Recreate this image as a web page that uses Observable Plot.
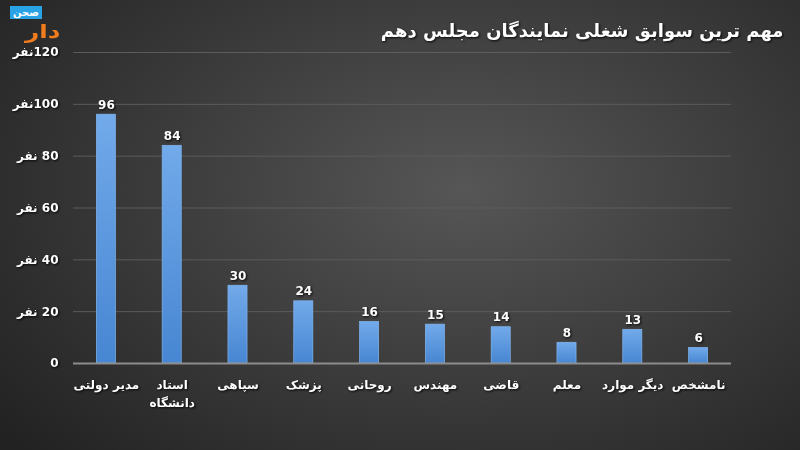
<!DOCTYPE html>
<html>
<head>
<meta charset="utf-8">
<script src="https://cdn.jsdelivr.net/npm/d3@7"></script>
<script src="https://cdn.jsdelivr.net/npm/@observablehq/plot@0.6"></script>
<style>
  html, body { margin: 0; padding: 0; }
  body {
    width: 800px; height: 450px; overflow: hidden; position: relative;
    background: radial-gradient(ellipse 75% 85% at 58% 42%, #565656 0%, #3c3c3c 50%, #222222 100%);
    font-family: "DejaVu Sans", sans-serif;
  }
  #logo { position: absolute; left: 9px; top: 5px; width: 60px; height: 40px; }
  #logo .blue { position: absolute; left: 1px; top: 1px; background: #29a3e6; color: #fff; font-size: 10px; font-weight: bold; line-height: 13px; padding: 0 3px; }
  #logo .orange { position: absolute; left: 16px; top: 15px; color: #f07c1e; font-size: 19px; line-height: 22px; font-weight: bold; transform: scaleX(1.3); transform-origin: left top; }
  svg text { filter: drop-shadow(1px 1px 1px rgba(0,0,0,0.85)); }
</style>
</head>
<body>
<div id="logo"><span class="orange">دار</span><span class="blue">صحن</span></div>
<div id="chart"></div>
<script>
const categories = ["مدیر دولتی", "استاد\nدانشگاه", "سپاهی", "پزشک", "روحانی", "مهندس", "قاضی", "معلم", "دیگر موارد", "نامشخص"];
const values = [96, 84, 30, 24, 16, 15, 14, 8, 13, 6];
const yTicks = [0, 20, 40, 60, 80, 100, 120];
const yTickLabels = ["0", "نفر\u200E 20", "نفر\u200E 40", "نفر\u200E 60", "نفر\u200E 80", "نفر\u200E100", "نفر\u200E120"];
const title = "مهم ترین سوابق شغلی نمایندگان مجلس دهم";

const data = categories.map((c, i) => ({category: c, value: values[i]}));

const defs = () => {
  const g = d3.create("svg:defs");
  const lg = g.append("linearGradient").attr("id", "barGrad").attr("x1", 0).attr("y1", 0).attr("x2", 0).attr("y2", 1);
  lg.append("stop").attr("offset", "0%").attr("stop-color", "#72aaea");
  lg.append("stop").attr("offset", "100%").attr("stop-color", "#4786d2");
  return g.node();
};

const chart = Plot.plot({
  width: 800,
  height: 450,
  marginTop: 52,
  marginBottom: 87,
  marginLeft: 73,
  marginRight: 69,
  style: { background: "transparent", color: "white", fontFamily: "DejaVu Sans, sans-serif", overflow: "visible" },
  x: { domain: categories, paddingInner: 0.71, paddingOuter: 0.355, round: false, label: null },
  y: { domain: [0, 120], label: null },
  marks: [
    defs,
    Plot.gridY(yTicks.slice(1), { stroke: "#5c5c5c", strokeOpacity: 1, strokeWidth: 1 }),
    Plot.barY(data, { x: "category", y: "value", fill: "url(#barGrad)", stroke: "#80b6f0", strokeWidth: 0.7 }),
    Plot.ruleY([0], { stroke: "#8c8c8c", strokeWidth: 2 }),
    Plot.text(data, { x: "category", y: "value", text: d => String(d.value), dy: -6, lineAnchor: "bottom", fill: "white", fontWeight: "bold", fontSize: 12 }),
    Plot.axisY({ ticks: yTicks, tickSize: 0, tickPadding: 15, tickFormat: d => yTickLabels[yTicks.indexOf(d)], fontSize: 12, fontWeight: "bold", fill: "white", label: null }),
    Plot.axisX({ tickSize: 0, tickPadding: 12, fontSize: 12, fontWeight: "bold", fill: "white", label: null, lineHeight: 1.55 }),
    Plot.text([title], { frameAnchor: "top-right", dx: 52, dy: -21, text: d => d, textAnchor: "end", lineAnchor: "middle", fill: "white", fontSize: 18, fontWeight: "bold" })
  ]
});
document.getElementById("chart").appendChild(chart);
</script>
</body>
</html>
